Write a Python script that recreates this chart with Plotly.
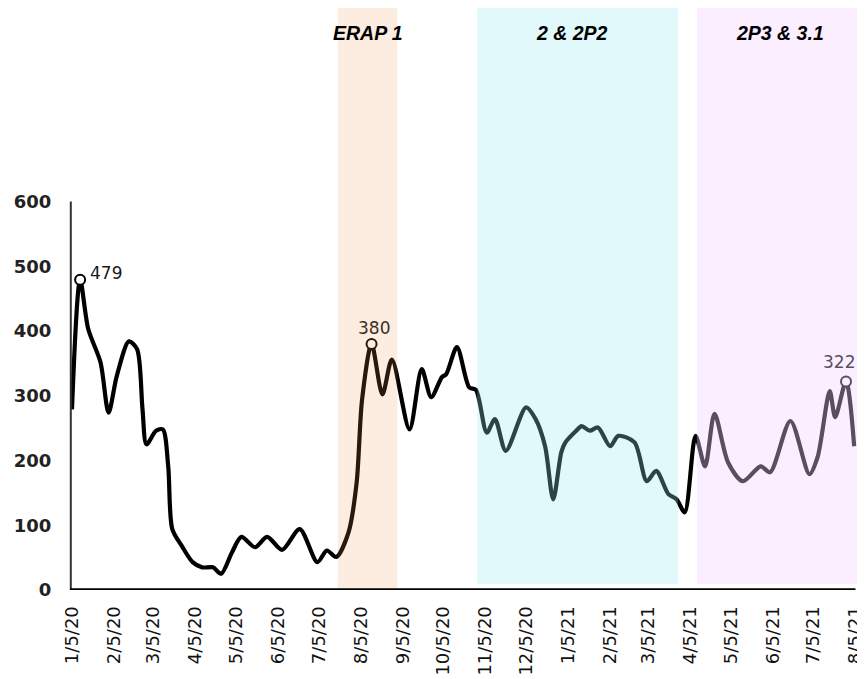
import plotly.graph_objects as go

# ---- data ----
dates = [
    "2020-01-05", "2020-01-11", "2020-01-17", "2020-01-26", "2020-02-01", "2020-02-07",
    "2020-02-16", "2020-02-22", "2020-02-26", "2020-02-29", "2020-03-07", "2020-03-12",
    "2020-03-16", "2020-03-19", "2020-03-26", "2020-04-03", "2020-04-10", "2020-04-18",
    "2020-04-24", "2020-05-02", "2020-05-09", "2020-05-19", "2020-05-28", "2020-06-08",
    "2020-06-21", "2020-07-04", "2020-07-11", "2020-07-18", "2020-07-27", "2020-08-02",
    "2020-08-06", "2020-08-13", "2020-08-21", "2020-08-28", "2020-09-10", "2020-09-19",
    "2020-09-26", "2020-10-04", "2020-10-07", "2020-10-15", "2020-10-24", "2020-10-29",
    "2020-11-06", "2020-11-12", "2020-11-20", "2020-12-05", "2020-12-12", "2020-12-19",
    "2020-12-25", "2020-12-31", "2021-01-03", "2021-01-11", "2021-01-15", "2021-01-21",
    "2021-01-27", "2021-02-05", "2021-02-11", "2021-02-23", "2021-03-04", "2021-03-11",
    "2021-03-20", "2021-03-26", "2021-04-01", "2021-04-09", "2021-04-16", "2021-04-23",
    "2021-05-03", "2021-05-14", "2021-05-27", "2021-06-03", "2021-06-18", "2021-07-02",
    "2021-07-08", "2021-07-17", "2021-07-21", "2021-07-29", "2021-08-04",
]
values = [
    279, 479, 403, 352, 274, 330,
    384, 372, 280, 225, 246, 248,
    191, 94, 68, 43, 35, 35,
    25, 58, 82, 66, 82, 62,
    94, 43, 61, 51, 89, 166,
    294, 380, 302, 356, 248, 341,
    298, 329, 333, 375, 313, 309,
    243, 264, 215, 282, 264, 222,
    140, 213, 228, 246, 253, 246,
    251, 222, 238, 228, 168, 184,
    148, 140, 120, 238, 191, 272,
    197, 168, 191, 182, 261, 179,
    205, 307, 267, 322, 222,
]

peak_dates = ["2020-01-11", "2020-08-13", "2021-07-29"]
peak_values = [479, 380, 322]
peak_labels = ["479", "380", "322"]

tick_dates = [
    "2020-01-05", "2020-02-05", "2020-03-05", "2020-04-05", "2020-05-05", "2020-06-05",
    "2020-07-05", "2020-08-05", "2020-09-05", "2020-10-05", "2020-11-05", "2020-12-05",
    "2021-01-05", "2021-02-05", "2021-03-05", "2021-04-05", "2021-05-05", "2021-06-05",
    "2021-07-05", "2021-08-05",
]
tick_labels = [
    "1/5/20", "2/5/20", "3/5/20", "4/5/20", "5/5/20", "6/5/20", "7/5/20", "8/5/20",
    "9/5/20", "10/5/20", "11/5/20", "12/5/20", "1/5/21", "2/5/21", "3/5/21", "4/5/21",
    "5/5/21", "6/5/21", "7/5/21", "8/5/21",
]
y_ticks = [0, 100, 200, 300, 400, 500, 600]

region_names = ["ERAP 1", "2 & 2P2", "2P3 & 3.1"]
region_starts = ["2020-07-19", "2020-10-30", "2021-04-10"]
region_ends = ["2020-09-01", "2021-03-27", "2021-08-12"]
region_label_x = ["2020-08-10", "2021-01-08", "2021-06-10"]

x_range = ["2020-01-03 13:00", "2021-08-12"]
y_range = [0, 898.8]

region_fill = ["rgba(240,150,70,0.17)", "rgba(155,234,241,0.29)", "rgba(241,209,255,0.373)"]
region_bottom = [0.0, 0.0103, 0.0103]
label_colors = ["#1a1a1a", "#3a3028", "#5a4e5e"]
label_shift = [(26, 7), (2, 16), (-7, 20)]

fig = go.Figure()

fig.add_trace(go.Scatter(
    x=dates, y=values, mode="lines",
    line=dict(color="#000000", width=4.2, shape="spline", smoothing=0.8),
    hoverinfo="skip", showlegend=False,
))
fig.add_trace(go.Scatter(
    x=peak_dates, y=peak_values, mode="markers",
    marker=dict(size=10, color="white", line=dict(color="#000000", width=2)),
    hoverinfo="skip", showlegend=False,
))

shapes = []
for s, e, c, b in zip(region_starts, region_ends, region_fill, region_bottom):
    shapes.append(dict(type="rect", xref="x", yref="paper", x0=s, x1=e, y0=b, y1=1,
                       fillcolor=c, line=dict(width=0), layer="above"))
# axis lines
shapes.append(dict(type="line", xref="paper", yref="y", x0=0.001, x1=0.001, y0=0, y1=600,
                   line=dict(color="#333333", width=2), layer="above"))
shapes.append(dict(type="line", xref="x", yref="y", x0=x_range[0], x1=tick_dates[-1], y0=0, y1=0,
                   line=dict(color="#000000", width=3.5), layer="above"))

annotations = []
for name, xc in zip(region_names, region_label_x):
    annotations.append(dict(
        x=xc, y=0.957, xref="x", yref="paper", text="<b><i>" + name + "</i></b>",
        showarrow=False, xanchor="center", yanchor="middle",
        font=dict(family="Liberation Sans, Arial", size=19.5, color="#000000"),
    ))
for d, v, t, col, (dx, dy) in zip(peak_dates, peak_values, peak_labels, label_colors, label_shift):
    annotations.append(dict(
        x=d, y=v, xref="x", yref="y", text=t, showarrow=False,
        xanchor="center", yanchor="middle", xshift=dx, yshift=dy,
        font=dict(family="DejaVu Sans", size=17, color=col),
    ))

# the page body adds an 8px offset; the plot area ends at the window edge,
# and a small right margin leaves room for the last tick label
fig.update_layout(
    width=865, height=671,
    margin=dict(l=62, r=8, t=0, b=89),
    paper_bgcolor="white", plot_bgcolor="white",
    shapes=shapes, annotations=annotations,
    showlegend=False,
    xaxis=dict(
        type="date", range=x_range, tickmode="array", tickvals=tick_dates,
        ticktext=tick_labels, tickangle=-90, showgrid=False, zeroline=False,
        showline=False, ticks="outside", ticklen=8, tickcolor="rgba(0,0,0,0)",
        tickfont=dict(family="DejaVu Sans", size=18, color="#111111"),
    ),
    yaxis=dict(
        range=y_range, tickmode="array", tickvals=y_ticks, showgrid=False,
        zeroline=False, showline=False, ticks="outside", ticklen=14,
        tickcolor="rgba(0,0,0,0)",
        tickfont=dict(family="DejaVu Sans", size=18, color="#222222", weight="bold"),
    ),
)

fig.write_html("out.html")
